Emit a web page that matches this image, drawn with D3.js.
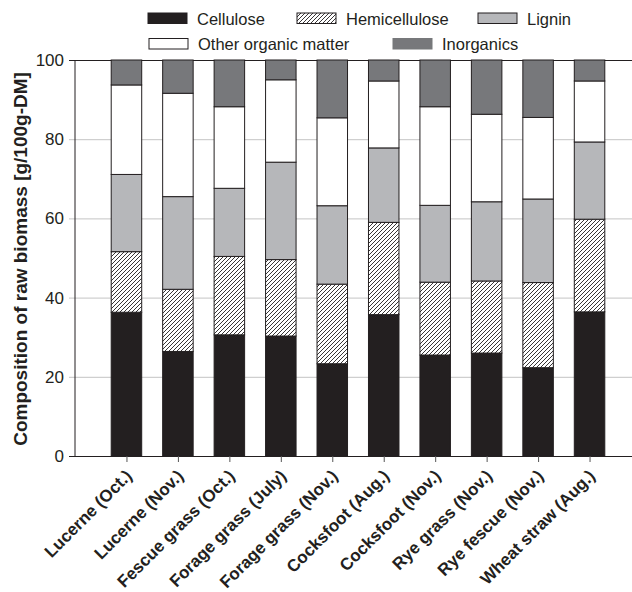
<!DOCTYPE html>
<html>
<head>
<meta charset="utf-8">
<script src="https://cdn.jsdelivr.net/npm/d3@7"></script>
<style>
  body { margin: 0; background: #fff; }
  svg text { font-family: "Liberation Sans", Arial, sans-serif; fill: #231f20; }
</style>
</head>
<body>
<div id="chart"></div>
<script>
// samples along the x axis
var samples = ["Lucerne (Oct.)", "Lucerne (Nov.)", "Fescue grass (Oct.)",
    "Forage grass (July)", "Forage grass (Nov.)", "Cocksfoot (Aug.)",
    "Cocksfoot (Nov.)", "Rye grass (Nov.)", "Rye fescue (Nov.)", "Wheat straw (Aug.)"];

// composition, g/100g-DM
var cellulose     = [36.3, 26.4, 30.6, 30.3, 23.3, 35.7, 25.5, 26.0, 22.3, 36.4];
var hemicellulose = [15.3, 15.7, 19.8, 19.3, 20.1, 23.3, 18.4, 18.2, 21.5, 23.4];
var lignin        = [19.5, 23.4, 17.2, 24.6, 19.8, 18.8, 19.4, 20.0, 21.1, 19.5];
var otherOrganic  = [22.6, 26.1, 20.6, 20.8, 22.2, 16.9, 24.9, 22.1, 20.6, 15.4];
var inorganics    = [ 6.3,  8.4, 11.8,  5.0, 14.6,  5.3, 11.8, 13.7, 14.5,  5.3];

var seriesNames = ["Cellulose", "Hemicellulose", "Lignin", "Other organic matter", "Inorganics"];
var yTicks = [0, 20, 40, 60, 80, 100];

var width = 632, height = 592;
var margin = {top: 60, left: 75, bottom: 136};
var plotRight = 641;   // frame runs past the picture edge
var plotBottom = height - margin.bottom;

var fills = {
    "Cellulose": "#231f20",
    "Hemicellulose": "url(#hatch)",
    "Lignin": "#b6b7ba",
    "Other organic matter": "#ffffff",
    "Inorganics": "#77787b"
};

var table = samples.map(function(s, i) {
    return {
        sample: s,
        "Cellulose": cellulose[i],
        "Hemicellulose": hemicellulose[i],
        "Lignin": lignin[i],
        "Other organic matter": otherOrganic[i],
        "Inorganics": inorganics[i]
    };
});

var stacked = d3.stack().keys(seriesNames)(table);

var svg = d3.select("#chart").append("svg")
    .attr("width", width)
    .attr("height", height);

// hatching for hemicellulose
svg.append("defs").append("pattern")
    .attr("id", "hatch")
    .attr("patternUnits", "userSpaceOnUse")
    .attr("width", 4)
    .attr("height", 4)
  .call(function(p) {
      p.append("rect").attr("width", 4).attr("height", 4).attr("fill", "#fff");
      p.append("path")
        .attr("d", "M-1,1 l2,-2 M0,4 l4,-4 M3,5 l2,-2")
        .attr("stroke", "#231f20")
        .attr("stroke-width", 0.9);
  });

var xScale = d3.scalePoint()
    .domain(samples)
    .range([margin.left, plotRight])
    .padding(1);

var yScale = d3.scaleLinear()
    .domain([0, 100])
    .range([plotBottom, margin.top]);

var barW = 30.5;

// gridlines + y ticks
var yAxis = d3.axisLeft(yScale)
    .tickValues(yTicks)
    .tickSize(-(plotRight - margin.left))
    .tickSizeOuter(0)
    .tickPadding(11);

var gy = svg.append("g")
    .attr("transform", "translate(" + margin.left + ",0)")
    .call(yAxis);
gy.select(".domain").remove();
gy.selectAll(".tick line")
    .attr("x1", -6)
    .attr("stroke", d => (d == 0 || d == 100) ? "#231f20" : "#c4c4c4")
    .attr("stroke-width", 1);
gy.selectAll(".tick text")
    .attr("font-size", 17)
    .attr("fill", "#231f20");

// bars
var layers = svg.selectAll("g.layer")
    .data(stacked)
    .enter().append("g")
    .attr("class", "layer")
    .attr("fill", d => fills[d.key]);

layers.selectAll("rect")
    .data(d => d)
    .enter().append("rect")
    .attr("x", d => xScale(d.data.sample) - barW / 2)
    .attr("width", barW)
    .attr("y", d => yScale(d[1]))
    .attr("height", d => yScale(d[0]) - yScale(d[1]))
    .attr("stroke", "#231f20")
    .attr("stroke-width", 1);

// frame: left axis, top line, bottom axis
svg.append("line")
    .attr("x1", margin.left).attr("x2", margin.left)
    .attr("y1", margin.top).attr("y2", plotBottom)
    .attr("stroke", "#231f20");

var xAxis = d3.axisBottom(xScale)
    .tickSize(6)
    .tickSizeOuter(0);

var gx = svg.append("g")
    .attr("transform", "translate(0," + plotBottom + ")")
    .call(xAxis);
gx.select(".domain").attr("stroke", "#231f20");
gx.selectAll(".tick line").attr("stroke", "#555");
gx.selectAll(".tick text")
    .attr("font-size", 17)
    .attr("font-weight", "bold")
    .attr("text-anchor", "end")
    .attr("y", 0)
    .attr("dy", 0)
    .attr("transform", "translate(6,21) rotate(-45)");

// y title
svg.append("text")
    .attr("transform", "translate(27," + ((margin.top + plotBottom) / 2 + 1) + ") rotate(-90)")
    .attr("text-anchor", "middle")
    .attr("font-size", 19)
    .attr("font-weight", "bold")
    .text("Composition of raw biomass [g/100g-DM]");

// legend
var legendPos = [
    {x: 148, y: 13}, {x: 297, y: 13}, {x: 478, y: 13},
    {x: 149, y: 38.5}, {x: 393, y: 38.5}
];

var legend = svg.selectAll("g.legend")
    .data(seriesNames)
    .enter().append("g")
    .attr("class", "legend")
    .attr("transform", (d, i) => "translate(" + legendPos[i].x + "," + legendPos[i].y + ")");

legend.append("rect")
    .attr("width", 39)
    .attr("height", 10.5)
    .attr("fill", d => fills[d])
    .attr("stroke", d => d == "Inorganics" ? "#77787b" : "#231f20")
    .attr("stroke-width", 1);

legend.append("text")
    .attr("x", 49)
    .attr("y", 11.5)
    .attr("font-size", 16.5)
    .text(d => d);
</script>
</body>
</html>
